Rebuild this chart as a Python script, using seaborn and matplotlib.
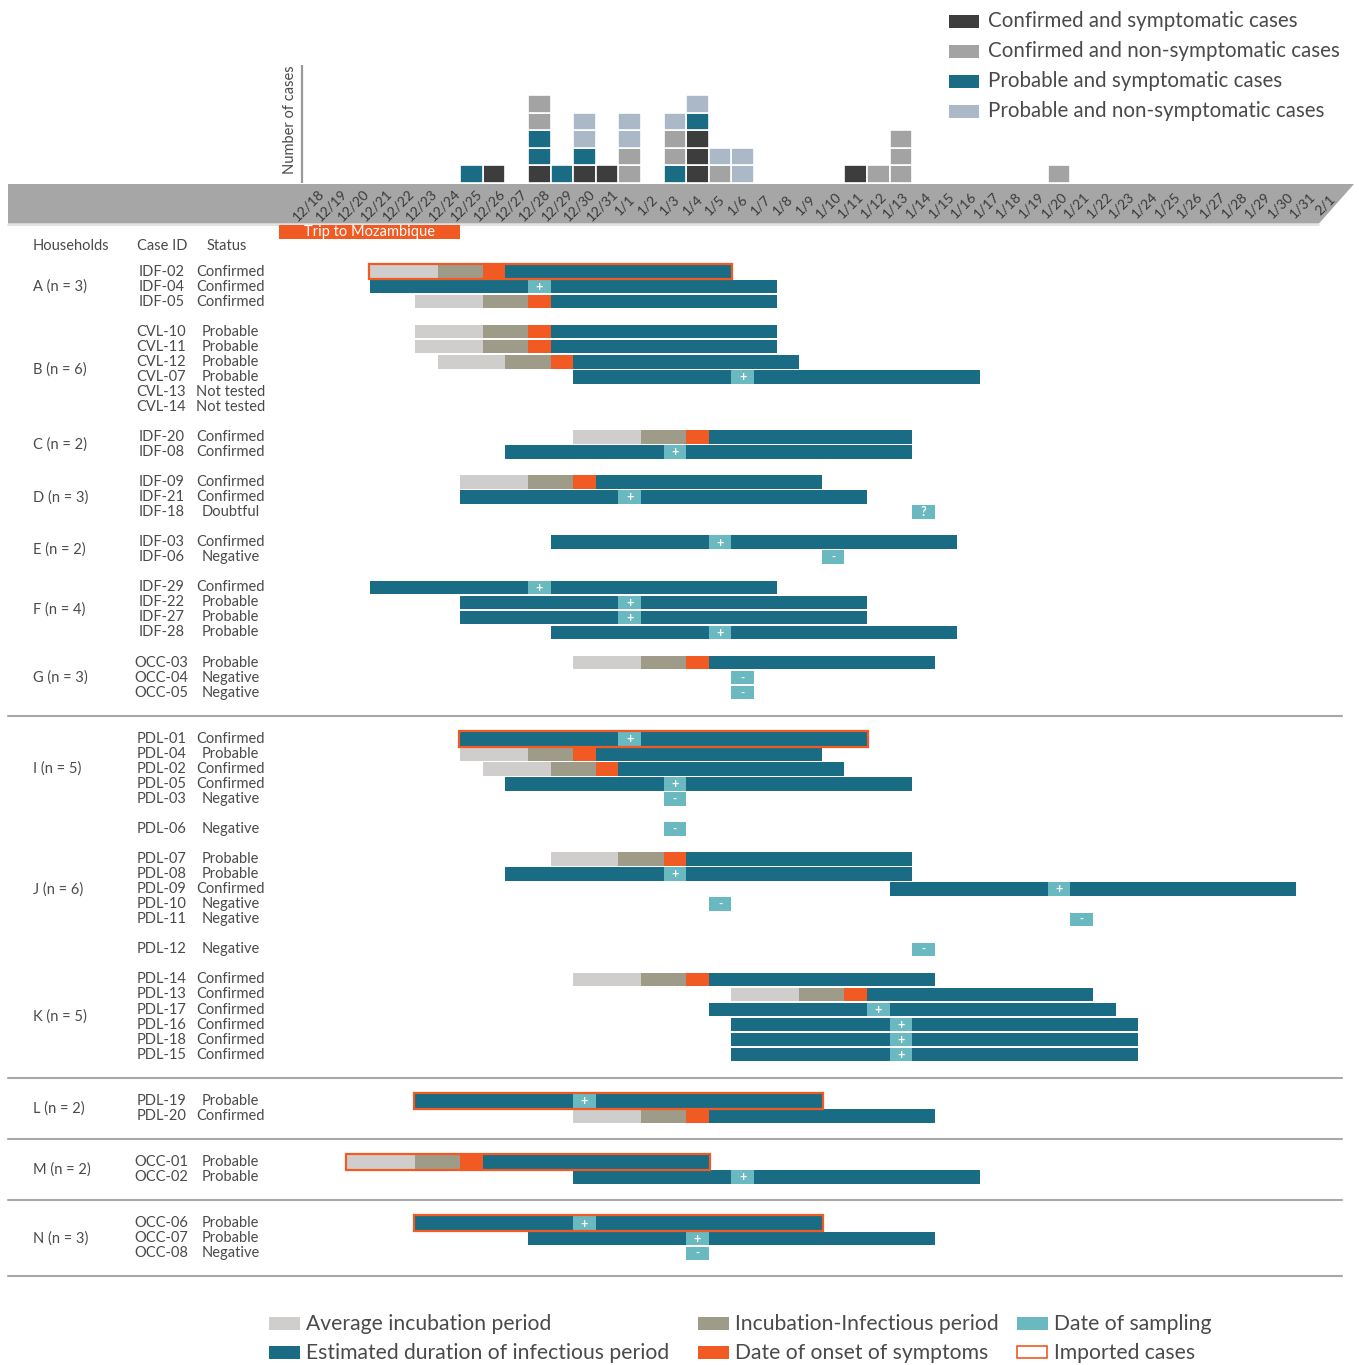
import matplotlib
matplotlib.use("Agg")
import matplotlib.pyplot as plt
import seaborn as sns
import numpy as np
import pandas as pd
from matplotlib.patches import Rectangle, Polygon
from matplotlib.transforms import blended_transform_factory

sns.set_theme(style="white")
plt.rcParams['font.family'] = ['Lato', 'DejaVu Sans']

nan = np.nan
# ---------------- data ----------------
date_labels = [f"{d.month}/{d.day}" for d in pd.date_range("2017-12-18", "2018-02-01")]

case_ids = ["IDF-02", "IDF-04", "IDF-05",
            "CVL-10", "CVL-11", "CVL-12", "CVL-07", "CVL-13", "CVL-14",
            "IDF-20", "IDF-08",
            "IDF-09", "IDF-21", "IDF-18",
            "IDF-03", "IDF-06",
            "IDF-29", "IDF-22", "IDF-27", "IDF-28",
            "OCC-03", "OCC-04", "OCC-05",
            "PDL-01", "PDL-04", "PDL-02", "PDL-05", "PDL-03",
            "PDL-06",
            "PDL-07", "PDL-08", "PDL-09", "PDL-10", "PDL-11",
            "PDL-12",
            "PDL-14", "PDL-13", "PDL-17", "PDL-16", "PDL-18", "PDL-15",
            "PDL-19", "PDL-20",
            "OCC-01", "OCC-02",
            "OCC-06", "OCC-07", "OCC-08"]
case_status = ["Confirmed", "Confirmed", "Confirmed",
               "Probable", "Probable", "Probable", "Probable", "Not tested", "Not tested",
               "Confirmed", "Confirmed",
               "Confirmed", "Confirmed", "Doubtful",
               "Confirmed", "Negative",
               "Confirmed", "Probable", "Probable", "Probable",
               "Probable", "Negative", "Negative",
               "Confirmed", "Probable", "Confirmed", "Confirmed", "Negative",
               "Negative",
               "Probable", "Probable", "Confirmed", "Negative", "Negative",
               "Negative",
               "Confirmed", "Confirmed", "Confirmed", "Confirmed", "Confirmed", "Confirmed",
               "Probable", "Confirmed",
               "Probable", "Probable",
               "Probable", "Probable", "Negative"]
# day index counted from 12/18 (0)
bar_start = [3, 3, 5,
             5, 5, 6, 12, nan, nan,
             12, 9,
             7, 7, nan,
             11, nan,
             3, 7, 7, 11,
             12, nan, nan,
             7, 7, 8, 9, nan,
             nan,
             11, 9, 26, nan, nan,
             nan,
             12, 19, 18, 19, 19, 19,
             5, 12,
             2, 12,
             5, 10, nan]
onset_day = [8, nan, 10,
             10, 10, 11, nan, nan, nan,
             17, nan,
             12, nan, nan,
             nan, nan,
             nan, nan, nan, nan,
             17, nan, nan,
             nan, 12, 13, nan, nan,
             nan,
             16, nan, nan, nan, nan,
             nan,
             17, 24, nan, nan, nan, nan,
             nan, 17,
             7, nan,
             nan, nan, nan]
sample_day = [nan, 10, nan,
              nan, nan, nan, 19, nan, nan,
              nan, 16,
              nan, 14, 27,
              18, 23,
              10, 14, 14, 18,
              nan, 19, 19,
              14, nan, nan, 16, 16,
              16,
              nan, 16, 33, 18, 34,
              27,
              nan, nan, 25, 26, 26, 26,
              12, nan,
              nan, 19,
              12, 17, 17]
bar_end = [19, 21, 21,
           21, 21, 22, 30, nan, nan,
           27, 27,
           23, 25, nan,
           29, nan,
           21, 25, 25, 29,
           28, nan, nan,
           25, 23, 24, 27, nan,
           nan,
           27, 27, 44, nan, nan,
           nan,
           28, 35, 36, 37, 37, 37,
           23, 28,
           18, 30,
           23, 28, nan]
test_result = ["", "+", "",
               "", "", "", "+", "", "",
               "", "+",
               "", "+", "?",
               "+", "-",
               "+", "+", "+", "+",
               "", "-", "-",
               "+", "", "", "+", "-",
               "-",
               "", "+", "+", "-", "-",
               "-",
               "", "", "+", "+", "+", "+",
               "+", "",
               "", "+",
               "+", "+", "-"]
imported = ["IDF-02", "PDL-01", "PDL-19", "OCC-01", "OCC-06"]
INC_INF_DAYS = 2  # incubation-infectious period before onset

households = ["A (n = 3)", "B (n = 6)", "C (n = 2)", "D (n = 3)", "E (n = 2)",
              "F (n = 4)", "G (n = 3)", "I (n = 5)", "", "J (n = 6)", "",
              "K (n = 5)", "L (n = 2)", "M (n = 2)", "N (n = 3)"]
household_sizes = [3, 6, 2, 3, 2, 4, 3, 5, 1, 5, 1, 6, 2, 2, 3]
separator_after = [False, False, False, False, False, False, True,
                   False, False, False, False, True, True, True, True]

trip_days = (-1, 7)

hist_categories = ["Confirmed and symptomatic cases", "Confirmed and non-symptomatic cases",
                   "Probable and symptomatic cases", "Probable and non-symptomatic cases"]
stack_order = [0, 2, 1, 3]

# ---------------- style ----------------
C_CS = '#3d3d3d'
C_CNS = '#a3a3a3'
C_TEAL = '#1a6b84'
C_PNS = '#abb8c8'
C_INC = '#cfcecc'
C_II = '#9e9c88'
C_ON = '#f15a22'
C_SAMP = '#6bb9c0'
C_BAND = '#a6a6a6'
TXT = '#4a4a4a'
cat_colors = [C_CS, C_CNS, C_TEAL, C_PNS]

W, H = 1359, 1365
X0, DX = 302.0, 22.6
Y0, RS = 271.5, 15.04
HIST_BOTTOM, HIST_TOP, HIST_UNIT = 183.0, 65.0, 17.6

fig = plt.figure(figsize=(W / 100, H / 100), dpi=100)
fig.patch.set_facecolor('white')

deco = fig.add_axes([0, 0, 1, 1])
deco.set_xlim(0, W)
deco.set_ylim(H, 0)
deco.axis('off')

xlim = ((0 - X0) / DX, (W - X0) / DX)
gantt = fig.add_axes([0, 0, 1, 1])
gantt.set_xlim(*xlim)
gantt.set_ylim((H - Y0) / RS, (0 - Y0) / RS)
gantt.axis('off')
gantt.patch.set_alpha(0)

hist = fig.add_axes([0, 1 - HIST_BOTTOM / H, 1, (HIST_BOTTOM - HIST_TOP) / H])
hist.set_xlim(*xlim)
hist.set_ylim(0, (HIST_BOTTOM - HIST_TOP) / HIST_UNIT)
hist.axis('off')
hist.patch.set_alpha(0)

# ---------------- row layout ----------------
row_pos = []
group_rows = []
separators = []
r = 0.0
for lab, n, sep in zip(households, household_sizes, separator_after):
    rows = [r + k for k in range(n)]
    row_pos.extend(rows)
    group_rows.append(rows)
    last = rows[-1]
    gap = 3.07 if sep else 2.0
    if sep:
        separators.append(last + gap / 2)
    r = last + gap

# ---------------- gantt bars ----------------
BH = 0.9
df = pd.DataFrame(dict(case=case_ids, status=case_status, start=bar_start,
                       onset=onset_day, samp=sample_day, end=bar_end,
                       result=test_result, row=row_pos))

def seg(y, a, b, c):
    gantt.barh(y, b - a, left=a, height=BH, color=c, edgecolor='none', linewidth=0)

for _, c in df.iterrows():
    y = c['row']
    if not np.isnan(c['onset']):
        seg(y, c['start'], c['onset'] - INC_INF_DAYS, C_INC)
        seg(y, c['onset'] - INC_INF_DAYS, c['onset'], C_II)
        seg(y, c['onset'], c['onset'] + 1, C_ON)
        seg(y, c['onset'] + 1, c['end'], C_TEAL)
    elif not np.isnan(c['start']):
        seg(y, c['start'], c['samp'], C_TEAL)
        seg(y, c['samp'] + 1, c['end'], C_TEAL)
    if not np.isnan(c['samp']):
        seg(y, c['samp'], c['samp'] + 1, C_SAMP)
        gantt.text(c['samp'] + 0.5, y + 0.02, c['result'], color='white', ha='center',
                   va='center', fontsize=9 if c['result'] != '-' else 8, fontweight='bold')
    if c['case'] in imported:
        gantt.add_patch(Rectangle((c['start'] - 0.04, y - 0.53), c['end'] - c['start'] + 0.08, 1.06,
                                  fill=False, edgecolor=C_ON, linewidth=1.6, zorder=5))

# ---------------- histogram ----------------
def category(c):
    if not np.isnan(c['onset']):
        return (0 if c['status'] == "Confirmed" else 2), c['onset']
    if c['result'] == '+':
        return (1 if c['status'] == "Confirmed" else 3), c['samp']
    return None, None

units = {}
for _, c in df.iterrows():
    cat, day = category(c)
    if cat is not None:
        units.setdefault(int(day), []).append(cat)
for day, cats in units.items():
    cats = sorted(cats, key=lambda k: stack_order.index(k))
    for k, cat in enumerate(cats):
        hist.bar(day + 0.5, 1, bottom=k, width=1.0, color=cat_colors[cat],
                 edgecolor='white', linewidth=1.2)

# histogram axis
deco.plot([X0, X0], [HIST_TOP, HIST_BOTTOM], color='#9a9a9a', lw=1.6, solid_capstyle='butt')
deco.text(290, 120, "Number of cases", rotation=90, ha='center', va='center',
          fontsize=10.5, color=TXT)

# ---------------- date band ----------------
deco.add_patch(Polygon([(8, 184), (1354, 184), (1319, 223.5), (8, 223.5)],
                       closed=True, facecolor=C_BAND, edgecolor='none'))
deco.plot([8, 1319], [225, 225], color='#dedede', lw=1.2)
for i, lab in enumerate(date_labels):
    deco.text(X0 + DX * (i + 0.5) - 5, 205, lab, rotation=45, ha='center', va='center',
              fontsize=10, color='#3a3a3a')

# trip
tb = blended_transform_factory(gantt.transData, deco.transData)
gantt.add_patch(Rectangle((trip_days[0], 224.5), trip_days[1] - trip_days[0], 14.5,
                          transform=tb, facecolor=C_ON, edgecolor='none', zorder=3))
gantt.text((trip_days[0] + trip_days[1]) / 2, 232, "Trip to Mozambique", transform=tb,
           ha='center', va='center', color='white', fontsize=10.5, zorder=4)

# ---------------- left labels ----------------
lt = blended_transform_factory(deco.transData, gantt.transData)
deco.text(33, 246.5, "Households", ha='left', va='center', fontsize=10.5, color=TXT)
deco.text(162, 246.5, "Case ID", ha='center', va='center', fontsize=10.5, color=TXT)
deco.text(227, 246.5, "Status", ha='center', va='center', fontsize=10.5, color=TXT)
for cid, st, y in zip(case_ids, case_status, row_pos):
    deco.text(161.5, y, cid, transform=lt, ha='center', va='center', fontsize=10.5, color=TXT)
    deco.text(230.5, y, st, transform=lt, ha='center', va='center', fontsize=10.5, color=TXT)
for lab, rows in zip(households, group_rows):
    if lab:
        deco.text(33, np.mean(rows), lab, transform=lt, ha='left', va='center',
                  fontsize=10.5, color=TXT)
for s in separators:
    deco.plot([8, 1342], [s, s], transform=lt, color='#a8a8a8', lw=1.5)

# ---------------- legends ----------------
for k, (lab, col) in enumerate(zip(hist_categories, cat_colors)):
    yc = 21 + 30 * k
    deco.add_patch(Rectangle((949, yc - 6.5), 30, 13, facecolor=col, edgecolor='none'))
    deco.text(988, yc, lab, ha='left', va='center', fontsize=14.8, color=TXT)

bottom_items = [("Average incubation period", C_INC, 269, 1323),
                ("Estimated duration of infectious period", C_TEAL, 269, 1352),
                ("Incubation-Infectious period", C_II, 698, 1323),
                ("Date of onset of symptoms", C_ON, 698, 1352),
                ("Date of sampling", C_SAMP, 1017, 1323),
                ("Imported cases", None, 1017, 1352)]
for lab, col, x, yc in bottom_items:
    if col is None:
        deco.add_patch(Rectangle((x, yc - 6), 30, 12, facecolor='white', edgecolor=C_ON, lw=1.2))
    else:
        deco.add_patch(Rectangle((x, yc - 6.5), 31, 13, facecolor=col, edgecolor='none'))
    deco.text(x + 37, yc + 1, lab, ha='left', va='center', fontsize=15.2, color=TXT)

fig.savefig("out.png", dpi=100, facecolor='white')
